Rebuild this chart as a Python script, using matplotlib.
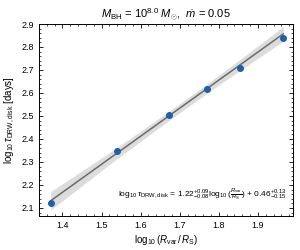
import numpy as np
import matplotlib
matplotlib.use('Agg')
import matplotlib.pyplot as plt

# log10(R_var / R_S) and log10(tau_DRW,disk)
log_r = [1.370, 1.539, 1.672, 1.769, 1.854, 1.965]
log_tau = [2.122, 2.349, 2.506, 2.619, 2.710, 2.840]

slope, intercept = 1.22, 0.46
band_lo = [0.040, 0.024, 0.020, 0.020, 0.024, 0.032]
band_hi = [0.040, 0.024, 0.020, 0.020, 0.024, 0.032]

plt.rcParams['font.family'] = ['Liberation Sans', 'DejaVu Sans']
plt.rcParams['mathtext.fontset'] = 'custom'
plt.rcParams['mathtext.rm'] = 'Liberation Sans'
plt.rcParams['mathtext.it'] = 'Liberation Sans:italic'
plt.rcParams['mathtext.bf'] = 'Liberation Sans:bold'
plt.rcParams['xtick.direction'] = 'in'
plt.rcParams['ytick.direction'] = 'in'
plt.rcParams['xtick.top'] = True
plt.rcParams['ytick.right'] = True
plt.rcParams['xtick.minor.visible'] = True
plt.rcParams['ytick.minor.visible'] = True

fig = plt.figure(figsize=(3, 2.5), dpi=100)
ax = fig.add_axes([0.13, 0.136, 0.847, 0.768])

x = np.array(log_r)
fit = slope * x + intercept
ax.fill_between(x, fit - np.array(band_lo), fit + np.array(band_hi),
                color='0.85', alpha=0.9, lw=0)
ax.plot(x, fit, color='0.42', lw=1.1)
ax.plot(log_r, log_tau, 'o', color='#1f5fa6', ms=4)

ax.set_xlim(1.34, 1.99)
ax.set_ylim(2.065, 2.9)
ax.set_xticks([1.4, 1.5, 1.6, 1.7, 1.8, 1.9])
ax.set_yticks([2.1, 2.2, 2.3, 2.4, 2.5, 2.6, 2.7, 2.8, 2.9])
ax.tick_params(labelsize=6.5, length=3, width=0.6)
ax.tick_params(which='minor', length=1.6, width=0.5)
for s in ax.spines.values():
    s.set_linewidth(0.7)

ax.set_xlabel(r'$\log_{10}(R_{\rm var}\,/\,R_{\rm S})$', fontsize=7, labelpad=2)
ax.set_ylabel(r'$\log_{10}\tau_{\rm DRW,disk}$ [days]', fontsize=7, labelpad=3)
ax.set_title(r'$M_{\rm BH}$ = 10$^{8.0}$ $M_{\odot}$,  $\dot{m}$ = 0.05', fontsize=8, pad=4)

ax.text(0.975, 0.11,
        r'$\log_{10}\tau_{\rm DRW,disk}$ = 1.22$^{+0.09}_{-0.08}$$\log_{10}(\frac{R_{\rm var}}{R_{\rm S}})$ + 0.46$^{+0.13}_{-0.15}$',
        transform=ax.transAxes, ha='right', va='center', fontsize=6)

fig.savefig('out.png', dpi=100)
